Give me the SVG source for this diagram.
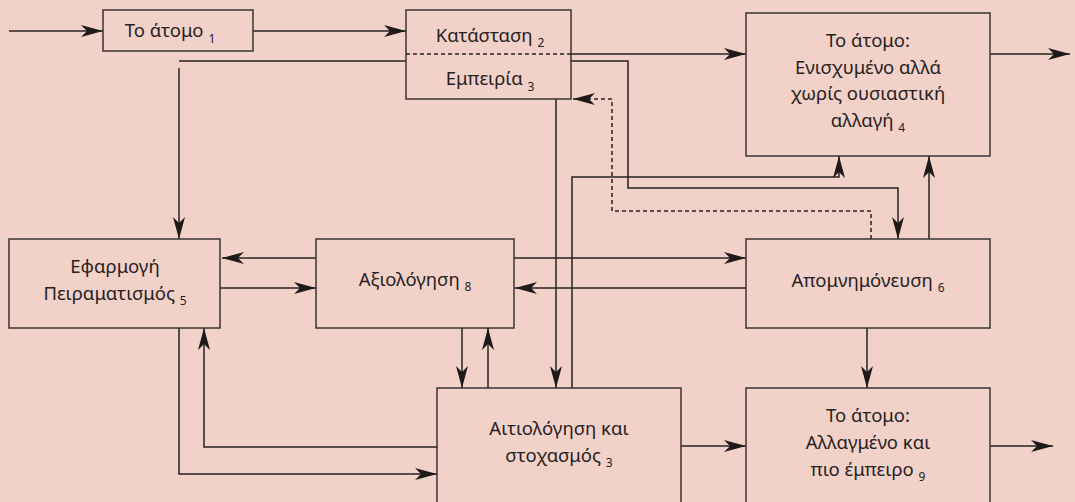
<svg xmlns="http://www.w3.org/2000/svg" width="1075" height="502" viewBox="0 0 1075 502">
<style>
.box{fill:none;stroke:#3a3434;stroke-width:1.5}
.ln{fill:none;stroke:#262222;stroke-width:1.5}
.dash{stroke-dasharray:4 3}
text{font-family:"Noto Sans","DejaVu Sans",sans-serif;font-size:18.5px;fill:#262222;text-anchor:middle}
.sub{font-size:12px}
</style>
<defs>
<marker id="ah" markerUnits="userSpaceOnUse" markerWidth="24" markerHeight="14" refX="22" refY="6" orient="auto">
<path d="M0,0 L22,6 L0,12 L6,6 z" fill="#1e1a1a"/>
</marker>
</defs>
<rect width="1075" height="502" fill="#F2D1C8"/>
<g id="connectors">
<path class="ln" d="M9,31 H103" marker-end="url(#ah)"/>
<path class="ln" d="M253,31 H406" marker-end="url(#ah)"/>
<path class="ln" d="M571,54 H746" marker-end="url(#ah)"/>
<path class="ln" d="M990,54 H1070" marker-end="url(#ah)"/>
<path class="ln" d="M406,61 H179"/>
<path class="ln" d="M179,68 V239" marker-end="url(#ah)"/>
<path class="ln" d="M571,61 H628 V188 H898 V239" marker-end="url(#ah)"/>
<path class="ln dash" d="M871,239 V211 H612 V99 H573" marker-end="url(#ah)"/>
<path class="ln" d="M556,99 V388" marker-end="url(#ah)"/>
<path class="ln" d="M572,388 V177 H839 V156" marker-end="url(#ah)"/>
<path class="ln" d="M929,239 V156" marker-end="url(#ah)"/>
<path class="ln" d="M316,258 H222" marker-end="url(#ah)"/>
<path class="ln" d="M220,288 H316" marker-end="url(#ah)"/>
<path class="ln" d="M514,258 H746" marker-end="url(#ah)"/>
<path class="ln" d="M746,288 H515" marker-end="url(#ah)"/>
<path class="ln" d="M867,328 V388" marker-end="url(#ah)"/>
<path class="ln" d="M990,446 H1053" marker-end="url(#ah)"/>
<path class="ln" d="M681,446 H746" marker-end="url(#ah)"/>
<path class="ln" d="M462,328 V388" marker-end="url(#ah)"/>
<path class="ln" d="M488,388 V328" marker-end="url(#ah)"/>
<path class="ln" d="M179,328 V474 H437" marker-end="url(#ah)"/>
<path class="ln" d="M437,447 H204 V328" marker-end="url(#ah)"/>
</g>
<g id="n1">
<rect class="box" x="103" y="10" width="150" height="41"/>
<text x="170" y="37">Το άτομο <tspan class="sub" dy="6">1</tspan></text>
</g>
<g id="n2">
<rect class="box" x="406" y="10" width="165" height="89"/>
<path class="ln dash" d="M406,54 H571"/>
<text x="490" y="42">Κατάσταση <tspan class="sub" dy="5">2</tspan></text>
<text x="490" y="85">Εμπειρία <tspan class="sub" dy="6">3</tspan></text>
</g>
<g id="n4">
<rect class="box" x="746" y="13" width="244" height="143"/>
<text x="868" y="47">Το άτομο:</text>
<text x="868" y="74">Ενισχυμένο αλλά</text>
<text x="868" y="100">χωρίς ουσιαστική</text>
<text x="868" y="127">αλλαγή <tspan class="sub" dy="5">4</tspan></text>
</g>
<g id="n5">
<rect class="box" x="9" y="239" width="211" height="89"/>
<text x="115" y="273">Εφαρμογή</text>
<text x="115" y="300">Πειραματισμός <tspan class="sub" dy="5">5</tspan></text>
</g>
<g id="n8">
<rect class="box" x="316" y="239" width="198" height="89"/>
<text x="415" y="286">Αξιολόγηση <tspan class="sub" dy="5">8</tspan></text>
</g>
<g id="n6">
<rect class="box" x="746" y="239" width="244" height="89"/>
<text x="868" y="287">Απομνημόνευση <tspan class="sub" dy="5">6</tspan></text>
</g>
<g id="n3b">
<rect class="box" x="437" y="388" width="244" height="130"/>
<text x="559" y="435">Αιτιολόγηση και</text>
<text x="559" y="462">στοχασμός <tspan class="sub" dy="5">3</tspan></text>
</g>
<g id="n9">
<rect class="box" x="746" y="388" width="244" height="130"/>
<text x="868" y="422">Το άτομο:</text>
<text x="868" y="449">Αλλαγμένο και</text>
<text x="868" y="476">πιο έμπειρο <tspan class="sub" dy="5">9</tspan></text>
</g>
</svg>
